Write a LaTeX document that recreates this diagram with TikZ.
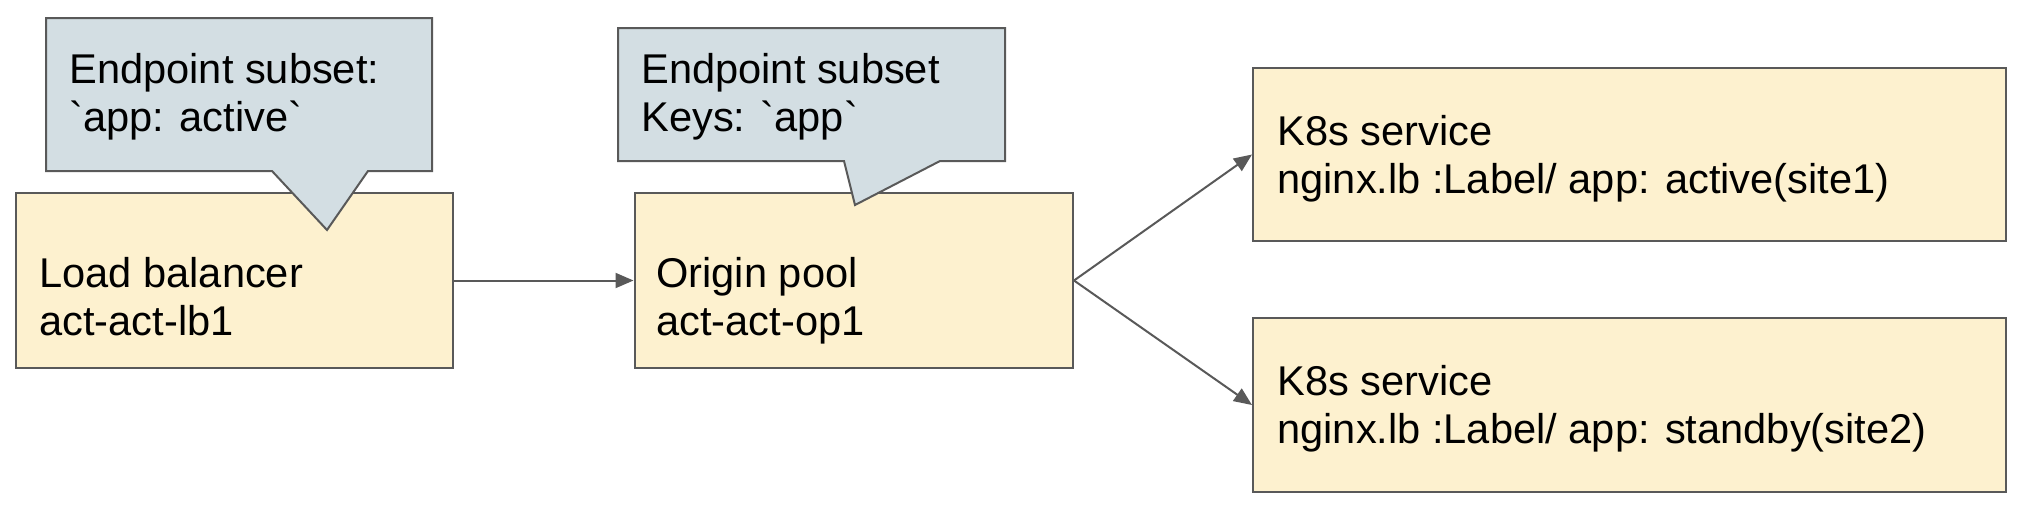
\documentclass[tikz,border=0pt]{standalone}
\usepackage{fontspec}
\setmainfont{Liberation Sans}[Ligatures=TeXOff]
\usetikzlibrary{arrows.meta}
\definecolor{boxfill}{HTML}{FDF1CF}
\definecolor{callfill}{HTML}{D3DEE3}
\definecolor{edgecol}{HTML}{595959}
\begin{document}
\begin{tikzpicture}[x=0.5pt,y=-0.5pt,
  box/.style={draw=edgecol, fill=boxfill, line width=1pt, inner sep=0pt},
  callout/.style={draw=edgecol, fill=callfill, line width=1pt, line join=miter},
  txt/.style={anchor=base west, inner sep=0pt, font=\fontsize{20.8pt}{24pt}\selectfont},
  arr/.style={draw=edgecol, line width=1pt, -{Triangle[length=9pt,width=7.5pt]}}]
\useasboundingbox (0,0) rectangle (2028,510);
% boxes
\node[box, minimum width=218.5pt, minimum height=87.5pt] (lb) at (234.5,280.5) {};
\node[box, minimum width=219.25pt, minimum height=87.5pt] (op) at (853.75,280.5) {};
\node[box, minimum width=376.5pt, minimum height=86.5pt] (k1) at (1629.5,154.5) {};
\node[box, minimum width=376.5pt, minimum height=87pt] (k2) at (1629.5,405) {};
% box texts
\node[txt] (lbt1) at (39,287) {Load balancer};
\node[txt] (lbt2) at (39,335) {act-act-lb1};
\node[txt] (opt1) at (656,287) {Origin pool};
\node[txt] (opt2) at (656,335) {act-act-op1};
\node[txt] (k1t1) at (1277,145) {K8s service};
\node[txt] (k1t2) at (1277,193) {nginx.lb :Label/ app: active(site1)};
\node[txt] (k2t1) at (1277,395) {K8s service};
\node[txt] (k2t2) at (1277,443) {nginx.lb :Label/ app: standby(site2)};
% callouts
\path[callout] (46,18) -- (432,18) -- (432,171) -- (368,171) -- (327,230) -- (272,171) -- (46,171) -- cycle;
\node[txt] (c1t1) at (69,83) {Endpoint subset:};
\node[txt] (c1t2) at (69,131) {`app: active`};
\path[callout] (618,28) -- (1005,28) -- (1005,161) -- (940,161) -- (855,205) -- (844,161) -- (618,161) -- cycle;
\node[txt] (c2t1) at (641,83) {Endpoint subset};
\node[txt] (c2t2) at (641,131) {Keys: `app`};
% connectors
\draw[arr] (lb.east) -- (op.west);
\draw[arr] (op.east) -- (k1.west);
\draw[arr] (op.east) -- (k2.west);
\end{tikzpicture}
\end{document}
